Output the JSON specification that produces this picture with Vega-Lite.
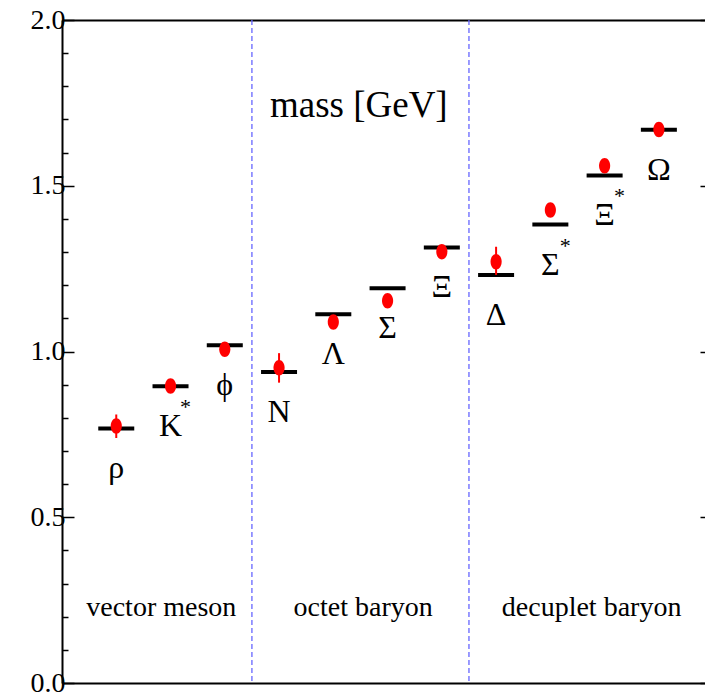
{
  "$schema": "https://vega.github.io/schema/vega-lite/v6.json",
  "width": 643,
  "height": 663,
  "autosize": {"type": "none"},
  "padding": {"left": 62, "top": 20, "right": 0, "bottom": 16},
  "background": "white",
  "config": {"view": {"stroke": null}},
  "datasets": {
    "hadrons": [
      {"name": "rho", "label": "ρ", "pos": 1, "exp": 0.768, "lat": 0.775, "lo": 0.739, "hi": 0.81, "star": false},
      {"name": "Kstar", "label": "K", "pos": 2, "exp": 0.895, "lat": 0.896, "lo": 0.886, "hi": 0.906, "star": true},
      {"name": "phi", "label": "ϕ", "pos": 3, "exp": 1.019, "lat": 1.007, "lo": 0.997, "hi": 1.017, "star": false},
      {"name": "N", "label": "N", "pos": 4, "exp": 0.938, "lat": 0.951, "lo": 0.906, "hi": 0.995, "star": false},
      {"name": "Lambda", "label": "Λ", "pos": 5, "exp": 1.112, "lat": 1.089, "lo": 1.077, "hi": 1.101, "star": false},
      {"name": "Sigma", "label": "Σ", "pos": 6, "exp": 1.191, "lat": 1.153, "lo": 1.141, "hi": 1.165, "star": false},
      {"name": "Xi", "label": "Ξ", "pos": 7, "exp": 1.314, "lat": 1.301, "lo": 1.291, "hi": 1.311, "star": false},
      {"name": "Delta", "label": "Δ", "pos": 8, "exp": 1.231, "lat": 1.271, "lo": 1.231, "hi": 1.316, "star": false},
      {"name": "Sigmastar", "label": "Σ", "pos": 9, "exp": 1.383, "lat": 1.427, "lo": 1.409, "hi": 1.445, "star": true},
      {"name": "Xistar", "label": "Ξ", "pos": 10, "exp": 1.531, "lat": 1.56, "lo": 1.548, "hi": 1.572, "star": true},
      {"name": "Omega", "label": "Ω", "pos": 11, "exp": 1.669, "lat": 1.67, "lo": 1.66, "hi": 1.68, "star": false}
    ],
    "dividers": [{"pos": 3.5}, {"pos": 7.5}],
    "groups": [
      {"text": "vector meson", "x": 1.83, "y": 0.202},
      {"text": "octet baryon", "x": 5.55, "y": 0.202},
      {"text": "decuplet baryon", "x": 9.76, "y": 0.202}
    ],
    "title": [{"text": "mass [GeV]", "x": 5.47, "y": 1.707}]
  },
  "resolve": {"axis": {"x": "independent", "y": "independent"}},
  "layer": [
    {
      "data": {"name": "dividers"},
      "mark": {"type": "rule", "color": "#6666ff", "strokeWidth": 1.3, "strokeDash": [5, 3]},
      "encoding": {
        "x": {"field": "pos", "type": "quantitative", "scale": {"domain": [0, 11.85], "nice": false, "zero": false},
          "axis": {"orient": "bottom", "domain": true, "domainColor": "black", "domainWidth": 2, "ticks": false, "labels": false, "grid": false, "title": null}}
      }
    },
    {
      "data": {"name": "hadrons"},
      "mark": {"type": "tick", "orient": "horizontal", "size": 36, "thickness": 4, "color": "black", "opacity": 1},
      "encoding": {
        "x": {"field": "pos", "type": "quantitative",
          "axis": {"orient": "top", "domain": true, "domainColor": "black", "domainWidth": 2, "ticks": false, "labels": false, "grid": false, "title": null}},
        "y": {"field": "exp", "type": "quantitative", "scale": {"domain": [0, 2], "nice": false, "zero": false},
          "axis": {
            "orient": "left", "title": null, "grid": false,
            "values": [0, 0.1, 0.2, 0.3, 0.4, 0.5, 0.6, 0.7, 0.8, 0.9, 1.0, 1.1, 1.2, 1.3, 1.4, 1.5, 1.6, 1.7, 1.8, 1.9, 2.0],
            "domain": true, "domainColor": "black", "domainWidth": 2,
            "tickColor": "black", "tickWidth": 1.5,
            "tickSize": {"condition": {"test": "abs(datum.value*2 - round(datum.value*2)) < 0.001", "value": -12}, "value": -6},
            "labelExpr": "abs(datum.value*2 - round(datum.value*2)) < 0.001 ? format(datum.value, '.1f') : ''",
            "labelFont": "Liberation Serif, Times New Roman, serif", "labelFontSize": 28, "labelColor": "black",
            "labelPadding": 9, "labelFlush": false, "labelOverlap": false, "labelBaseline": "middle"
          }}
      }
    },
    {
      "data": {"name": "hadrons"},
      "mark": {"type": "rule", "color": "#ff0000", "strokeWidth": 2},
      "encoding": {
        "x": {"field": "pos", "type": "quantitative", "axis": null},
        "y": {"field": "lo", "type": "quantitative",
          "axis": {"orient": "right", "title": null, "grid": false, "domain": false, "labels": false,
            "values": [0, 0.5, 1.0, 1.5, 2.0], "tickColor": "black", "tickWidth": 1.5, "tickSize": -5}},
        "y2": {"field": "hi"}
      }
    },
    {
      "data": {"name": "hadrons"},
      "mark": {"type": "point", "filled": true, "color": "#ff0000", "opacity": 1, "size": 240,
        "shape": "M0,-1 C0.4,-1 0.72,-0.55 0.72,0 C0.72,0.55 0.4,1 0,1 C-0.4,1 -0.72,0.55 -0.72,0 C-0.72,-0.55 -0.4,-1 0,-1 Z"},
      "encoding": {
        "x": {"field": "pos", "type": "quantitative", "axis": null},
        "y": {"field": "lat", "type": "quantitative", "axis": null}
      }
    },
    {
      "data": {"name": "hadrons"},
      "mark": {"type": "text", "font": "Liberation Serif, Times New Roman, serif", "fontSize": 32, "color": "black", "baseline": "alphabetic", "align": "center", "yOffset": 50},
      "encoding": {
        "x": {"field": "pos", "type": "quantitative", "axis": null},
        "y": {"field": "exp", "type": "quantitative", "axis": null},
        "text": {"field": "label"}
      }
    },
    {
      "data": {"name": "hadrons"},
      "transform": [{"filter": "datum.star"}],
      "mark": {"type": "text", "font": "Liberation Serif, Times New Roman, serif", "fontSize": 22, "color": "black", "baseline": "alphabetic", "align": "center", "yOffset": 28, "xOffset": 15, "text": "*"},
      "encoding": {
        "x": {"field": "pos", "type": "quantitative", "axis": null},
        "y": {"field": "exp", "type": "quantitative", "axis": null}
      }
    },
    {
      "data": {"name": "groups"},
      "mark": {"type": "text", "font": "Liberation Serif, Times New Roman, serif", "fontSize": 28, "color": "black", "baseline": "alphabetic", "align": "center"},
      "encoding": {
        "x": {"field": "x", "type": "quantitative", "axis": null},
        "y": {"field": "y", "type": "quantitative", "axis": null},
        "text": {"field": "text"}
      }
    },
    {
      "data": {"name": "title"},
      "mark": {"type": "text", "font": "Liberation Serif, Times New Roman, serif", "fontSize": 37, "color": "black", "baseline": "alphabetic", "align": "center"},
      "encoding": {
        "x": {"field": "x", "type": "quantitative", "axis": null},
        "y": {"field": "y", "type": "quantitative", "axis": null},
        "text": {"field": "text"}
      }
    }
  ]
}
